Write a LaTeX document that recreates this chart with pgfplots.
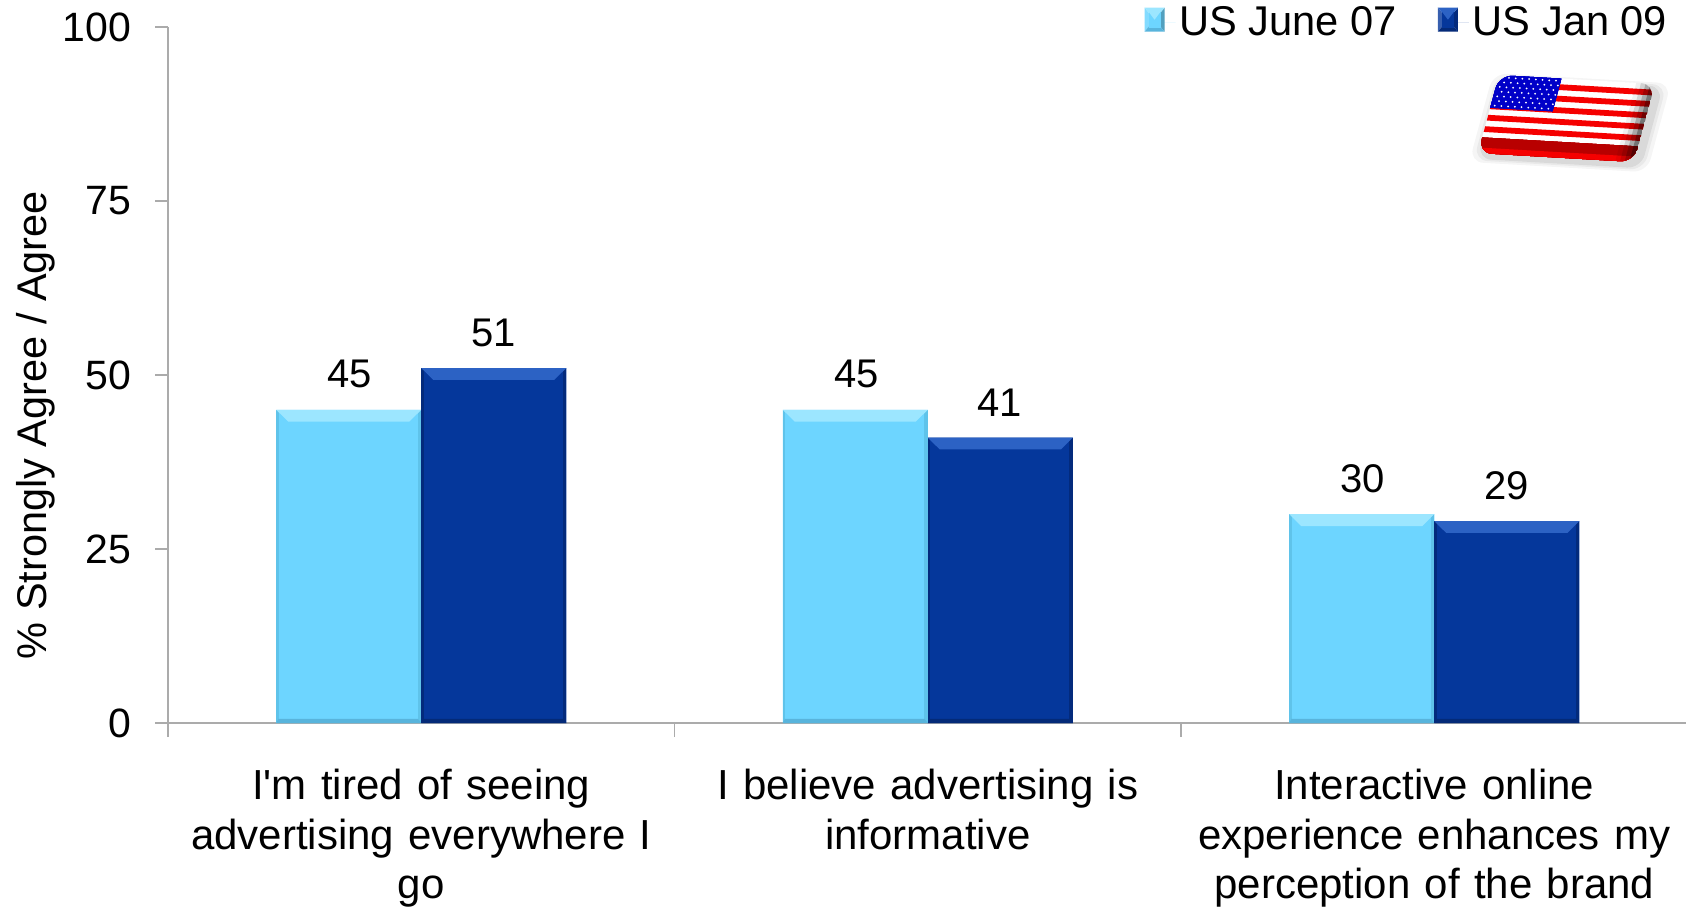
\documentclass[border=0pt]{standalone}
\usepackage{fontspec}
\setmainfont{Liberation Sans}
\usepackage{pgfplots}
\pgfplotsset{compat=1.18}
\usepackage{pgfplotstable}

\definecolor{lightmain}{HTML}{6DD5FF}
\definecolor{lighttop}{HTML}{9CE6FF}
\definecolor{lightedge}{HTML}{5FC3EA}
\definecolor{lightbase}{HTML}{58B4DC}
\definecolor{darkmain}{HTML}{05379B}
\definecolor{darktop}{HTML}{2C62C4}
\definecolor{darkedge}{HTML}{032A7C}
\definecolor{darkbase}{HTML}{042A78}
\definecolor{axisgray}{HTML}{ABABAB}
\definecolor{flagred}{HTML}{F50000}
\definecolor{flagblue}{HTML}{0000C8}

\pgfplotstableread{
x    june jan
0.5  45   51
1.5  45   41
2.5  30   29
}\agreement

% Bevelled rim of one bar: left, right, value, then top/side/base colours
\newcommand{\bevel}[6]{%
  \pgfmathsetmacro{\inL}{#1+0.0045}%
  \pgfmathsetmacro{\inR}{#2-0.0065}%
  \pgfmathsetmacro{\mitL}{#1+0.0237}%
  \pgfmathsetmacro{\mitR}{#2-0.0237}%
  \pgfmathsetmacro{\topY}{#3-1.7}%
  \addplot[fill=#5,draw=none,forget plot] coordinates {(#1,0) (\inL,0) (\inL,#3) (#1,#3)} --cycle;
  \addplot[fill=#5,draw=none,forget plot] coordinates {(\inR,0) (#2,0) (#2,#3) (\inR,#3)} --cycle;
  \addplot[fill=#6,draw=none,forget plot] coordinates {(#1,0) (#2,0) (\inR,0.6) (\inL,0.6)} --cycle;
  \addplot[fill=#4,draw=none,forget plot] coordinates {(#1,#3) (#2,#3) (\mitR,\topY) (\mitL,\topY)} --cycle;
}

% Small pyramid-shaped legend key, followed by the gap before its text
\newcommand{\legendkey}[5]{%
  \path (0pt,0pt) -- (15.5pt,0pt);
  \fill[#2] (0pt,-4.5pt) -- (5pt,1.5pt) -- (0pt,7.5pt) --cycle;
  \fill[#3] (10pt,-4.5pt) -- (5pt,1.5pt) -- (10pt,7.5pt) --cycle;
  \fill[#1] (0pt,7.5pt) -- (5pt,1.5pt) -- (10pt,7.5pt) --cycle;
  \fill[#4] (0pt,-4.5pt) -- (5pt,1.5pt) -- (10pt,-4.5pt) --cycle;
  \fill[#5] (2pt,-2.5pt) rectangle (8pt,5.5pt);
  \fill[#1] (2pt,5.5pt) -- (5pt,1.5pt) -- (8pt,5.5pt) --cycle;
}

% One band of the flag badge, from depth #2 to depth #3
\newcommand{\band}[3]{\fill[#1] (0,{#2}) -- (1,{#2}) -- (1,{#3}) -- (0,{#3}) -- cycle;}

\begin{document}
\begin{tikzpicture}
\path[use as bounding box] (0,0) rectangle (843pt,453pt);

\begin{axis}[
  at={(84pt,91.5pt)}, anchor=south west,
  scale only axis, width=759pt, height=348pt,
  xmin=0, xmax=2.997, ymin=0, ymax=100,
  axis x line=bottom, axis y line=left,
  axis line style={-, draw=axisgray, line width=0.7pt},
  tick align=outside,
  ytick={0,25,50,75,100},
  xtick={0.5,1.5,2.5},
  minor xtick={0,1,2},
  major tick length=6.5pt, minor tick length=7pt,
  y tick style={draw=axisgray, line width=0.7pt},
  major x tick style={draw=none},
  minor x tick style={draw=axisgray, line width=0.7pt},
  xticklabels={
    {I\textquotesingle m tired of seeing\\advertising everywhere I\\go},
    {I believe advertising is\\informative\\\vphantom{g}},
    {Interactive online\\experience enhances my\\perception of the brand}},
  tick label style={font=\fontsize{20.5}{24.7}\selectfont},
  /pgf/number format/assume math mode=true,
  yticklabel style={xshift=-8.5pt},
  xticklabel style={font=\fontsize{21}{24.7}\selectfont, align=center, anchor=north, yshift=-16.5pt, inner sep=0pt,
    execute at begin node={\spaceskip=0.34em plus 0.1em}},
  every axis y label/.style={at={(axis description cs:-0.0870,0.428)},rotate=90,anchor=center},
  ylabel={\fontsize{20.75}{24}\selectfont\% Strongly Agree / Agree},
  legend style={draw=none, fill=none, at={(rel axis cs:0.9905,1.0355)}, anchor=north east,
    legend columns=2, font=\fontsize{20.8}{24}\selectfont, inner sep=0pt,
    /tikz/every even column/.style={column sep=18.5pt}},
  legend cell align=left,
]
\addplot[ybar, bar width=72.5pt, bar shift=-36.25pt, fill=lightmain, draw=none,
  nodes near coords,
  nodes near coords style={font=\fontsize{20}{23}\selectfont, anchor=south, yshift=7.2pt, xshift=-35.75pt,
    /pgf/number format/assume math mode=true, text=black},
  legend image code/.code={\legendkey{lighttop}{lightmain!85!white}{lightmain!75!black}{lightbase}{lightmain}}]
  table[x=x, y=june] {\agreement};
\addlegendentry{US June 07}
\addplot[ybar, bar width=72.5pt, bar shift=36.25pt, fill=darkmain, draw=none,
  nodes near coords,
  nodes near coords style={font=\fontsize{20}{23}\selectfont, anchor=south, yshift=7.2pt, xshift=36pt,
    /pgf/number format/assume math mode=true, text=black},
  legend image code/.code={\legendkey{darktop}{darkmain!80!white}{darkedge}{darkbase}{darkmain}}]
  table[x=x, y=jan] {\agreement};
\addlegendentry{US Jan 09}

\bevel{0.2137}{0.5}{45}{lighttop}{lightedge}{lightbase}
\bevel{0.5}{0.7863}{51}{darktop}{darkedge}{darkbase}
\bevel{1.2137}{1.5}{45}{lighttop}{lightedge}{lightbase}
\bevel{1.5}{1.7863}{41}{darktop}{darkedge}{darkbase}
\bevel{2.2137}{2.5}{30}{lighttop}{lightedge}{lightbase}
\bevel{2.5}{2.7863}{29}{darktop}{darkedge}{darkbase}
\end{axis}

% Glossy flag badge, top right. Scope coordinates run across and down the badge.
\begin{scope}[shift={(749.5pt,415.5pt)}, x={(78pt,-4.5pt)}, y={(-10.5pt,-39pt)}]
  \foreach \o/\s in {0.04/0.07,0.05/0.045,0.07/0.025}
    \fill[black,opacity=\o,rounded corners=7pt]
      ({0.03-\s},{0.05-\s}) -- ({1.03+\s},{0.05-\s}) -- ({1.03+\s},{1.05+\s}) -- ({0.03-\s},{1.05+\s}) -- cycle;
  \begin{scope}
    \clip[rounded corners=7pt] (0,0) -- (1,0) -- (1,1) -- (0,1) -- cycle;
    \band{white}{0}{1}
    \foreach \k in {1,3,5,7,9}
      \band{flagred}{\k*0.073}{(\k+1)*0.073}
    \band{flagred!75!black}{0.80}{1}
    \band{flagred}{0.93}{1}
    \fill[flagblue] (0,0) -- (0.40,0) -- (0.40,0.42) -- (0,0.42) -- cycle;
    \foreach \r in {0,...,6}
      \foreach \c in {0,...,8}
        \fill[white] ({0.025+\c*0.043+mod(\r,2)*0.02},{0.03+\r*0.06}) circle (0.5pt);
    \foreach \f/\o in {0.97/0.3,0.94/0.2,0.91/0.12,0.88/0.06}
      \fill[black,opacity=\o] (\f,0) -- (1,0) -- (1,1) -- (\f,1) -- cycle;
  \end{scope}
\end{scope}
\end{tikzpicture}
\end{document}
